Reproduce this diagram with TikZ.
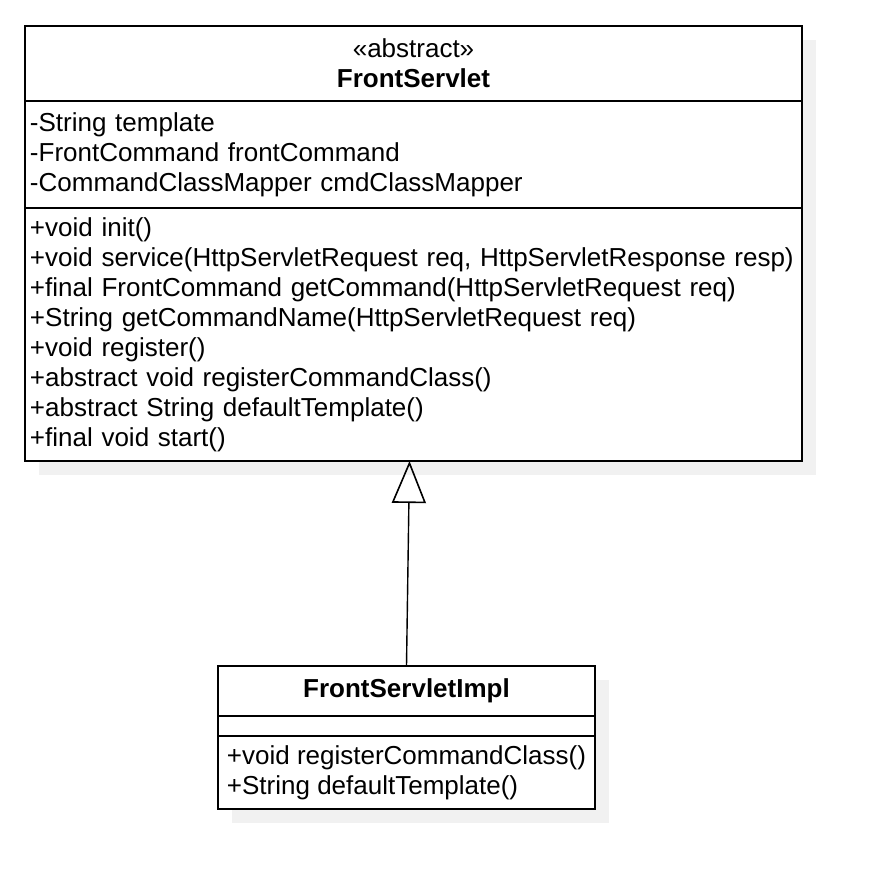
\documentclass[tikz,border=0pt]{standalone}
\usepackage{fontspec}
\setmainfont{Liberation Sans}
\usepackage{tikz}
\usetikzlibrary{arrows.meta, positioning, backgrounds}
\definecolor{shadowgray}{RGB}{241,241,241}
\tikzset{
		umlfont/.style = {font=\fontsize{26}{30}\selectfont},
		compartment/.style = {draw, fill=white, line width=1.6pt, outer sep=0pt, anchor=north west, inner xsep=5pt, inner ysep=0pt, umlfont},
		title part/.style = {compartment, align=center},
		member part/.style = {compartment, align=left},
		drop shadow box/.style = {fill=shadowgray},
		inherits/.style = {line width=1.4pt, -{Triangle[open, length=42pt, width=34pt, line width=1.6pt]}}
	}

\begin{document}
\begin{tikzpicture}[x=1pt, y=-1pt]
		\useasboundingbox (0,0) rectangle (874,884);

		% abstract base class
		\node[title part, minimum width=777pt, minimum height=75pt, text width=767pt]  (servletHead)  at (25,26)
			{\guillemotleft abstract\guillemotright\\ \textbf{FrontServlet}};
		\node[member part, minimum width=777pt, minimum height=107pt, text width=767pt] (servletAttr) at (servletHead.south west)
			{-String template\\ -FrontCommand frontCommand\\ -CommandClassMapper cmdClassMapper};
		\node[member part, minimum width=777pt, minimum height=253pt, text width=767pt] (servletOps)  at (servletAttr.south west)
			{+void init()\\
			 +void service(HttpServletRequest req, HttpServletResponse resp)\\
			 +final FrontCommand getCommand(HttpServletRequest req)\\
			 +String getCommandName(HttpServletRequest req)\\
			 +void register()\\
			 +abstract void registerCommandClass()\\
			 +abstract String defaultTemplate()\\
			 +final void start()};

		% concrete subclass
		\node[title part, minimum width=377pt, minimum height=50pt]  (implHead)  at (218,666)
			{\textbf{FrontServletImpl}};
		\node[member part, minimum width=377pt, minimum height=20pt]  (implAttr)  at (implHead.south west) {};
		\node[member part, minimum width=377pt, minimum height=73pt]  (implOps)   at (implAttr.south west)
			{+void registerCommandClass()\\ +String defaultTemplate()};

		% shadows
		\begin{scope}[on background layer]
			\fill[drop shadow box] ([shift={(14,14)}]servletHead.north west) rectangle ([shift={(14,14)}]servletOps.south east);
			\fill[drop shadow box] ([shift={(14,14)}]implHead.north west) rectangle ([shift={(14,14)}]implOps.south east);
		\end{scope}

		\coordinate (baseTip) at ([xshift=-4pt]servletOps.south);
		\draw[inherits] (implHead.north) -- (baseTip);

	\end{tikzpicture}
\end{document}
